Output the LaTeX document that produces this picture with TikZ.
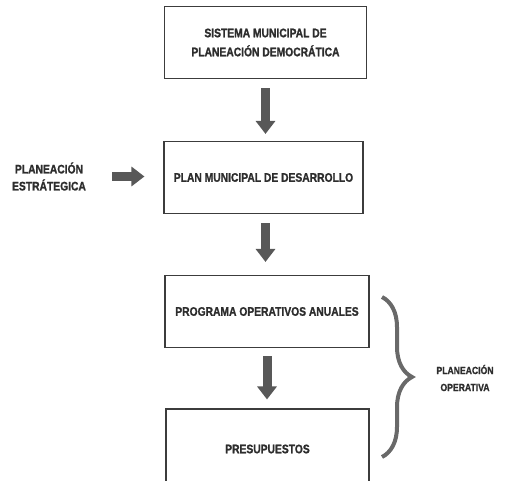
\documentclass[tikz,border=0pt]{standalone}
\usepackage{fontspec}
\setmainfont{Liberation Sans}[FakeStretch=0.83, BoldFeatures={FakeBold=1.2}]
\usetikzlibrary{arrows.meta, positioning, decorations.pathreplacing}
\definecolor{boxline}{RGB}{60, 60, 60}
\definecolor{arrowgray}{RGB}{88, 88, 88}
\definecolor{bracegray}{RGB}{105, 105, 105}
\definecolor{textgray}{RGB}{45, 45, 45}

\begin{document}
\begin{tikzpicture}[x=1pt, y=-1pt,
  stage/.style={draw=boxline, line width=1.1pt, minimum width=202pt, minimum height=72pt, align=center, text=textgray, font=\bfseries\fontsize{12.4}{19}\selectfont},
  sidelabel/.style={align=center, text=textgray, inner sep=0pt},
  blockarrow/.style={draw=arrowgray, line width=9pt, -{Triangle[length=13pt, width=19pt]}}]
  \clip (0,0) rectangle (514,481);

  % Stages
  \node[stage] (sistema) at (265.5, 42.5) {SISTEMA MUNICIPAL DE\\PLANEACIÓN DEMOCRÁTICA};
  \node[stage, minimum width=199pt] (plan) at (263.5, 177.5) {PLAN MUNICIPAL DE DESARROLLO};
  \node[stage, minimum width=204pt] (programa) at (267, 311.5) {PROGRAMA OPERATIVOS ANUALES};
  \node[stage, minimum width=203pt, minimum height=80pt] (presupuestos) at (267.5, 449) {PRESUPUESTOS};

  % Down arrows
  \draw[blockarrow, shorten <=9pt, shorten >=7pt] (sistema.south) -- (sistema.south |- plan.north);
  \draw[blockarrow, shorten <=9pt, shorten >=13pt] (plan.south) ++(2,0) coordinate (p2) -- (p2 |- programa.north);
  \draw[blockarrow, shorten <=8pt, shorten >=9pt] (programa.south) -- (programa.south |- presupuestos.north);

  % Planeacion estrategica
  \node[sidelabel, font=\bfseries\fontsize{12.4}{17}\selectfont] (estrategica) at (49, 176.5) {PLANEACIÓN\\ESTRÁTEGICA};
  \draw[blockarrow, shorten <=26pt, shorten >=19pt] (estrategica.east) -- (estrategica.east -| plan.west);

  % Planeacion operativa
  \coordinate (bracetop) at (382, 297);
  \coordinate (bracebot) at (382, 457);
  \draw[bracegray, line width=4pt, decorate, decoration={brace, amplitude=30pt}] (bracetop) -- (bracebot);
  \node[sidelabel, font=\bfseries\fontsize{10.4}{17}\selectfont] (operativa) at (465, 378) {PLANEACIÓN\\OPERATIVA};
\end{tikzpicture}
\end{document}
